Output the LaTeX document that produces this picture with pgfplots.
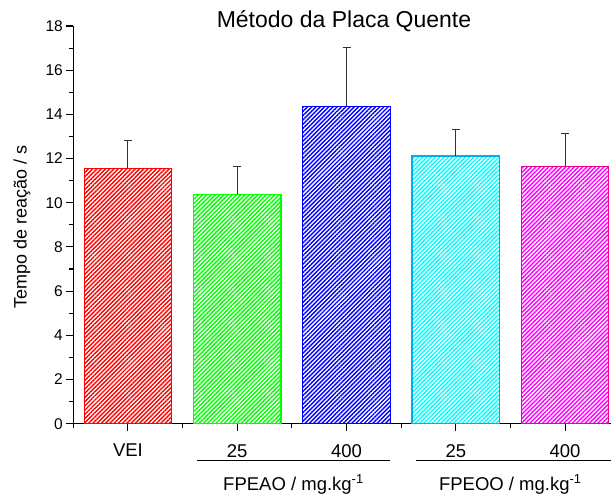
\documentclass[border=0pt]{standalone}
\usepackage{fontspec}
\setmainfont{Liberation Sans}
\usepackage{pgfplots}
\pgfplotsset{compat=1.18}
\usetikzlibrary{patterns.meta}

\pgfplotsset{
  hatchbar/.style={
    draw=#1, line width=1.2bp,
    pattern={Lines[angle=45,distance=3bp,line width=1.4bp]},
    pattern color=#1,
    error bars/.cd,
      y dir=plus, y explicit,
      error bar style={line width=1bp, black!80},
      error mark options={rotate=90, mark size=4bp, line width=1bp, black!80},
  },
}

\begin{document}
\begin{tikzpicture}
\path[use as bounding box] (-73.3bp,-71.3bp) rectangle (537.7bp,423.7bp);
\begin{axis}[
  at={(0,0)}, anchor=south west,
  scale only axis,
  width=537.7bp, height=397.7bp,
  xmin=0.5, xmax=5.42,
  ymin=0, ymax=18,
  axis lines*=left,
  axis line style={line width=1.4bp, black},
  ybar, bar width=0.8, bar shift=0pt,
  xtick={1,...,5},
  xticklabels={VEI,25,400,25,400},
  minor xtick={0.5,1.5,2.5,3.5,4.5},
  ytick={0,2,...,18},
  minor ytick={1,3,...,17},
  tick align=outside,
  major tick length=7bp,
  minor tick length=4.5bp,
  tick style={line width=1.1bp, black},
  /pgf/number format/assume math mode=true,
  yticklabel style={font=\fontsize{15.5bp}{18bp}\selectfont},
  xticklabel style={font=\fontsize{18.5bp}{22bp}\selectfont, yshift=-10bp},
  clip=false,
]
\addplot[hatchbar=red] coordinates {(1,11.54) +- (0,1.29)};
\addplot[hatchbar=green] coordinates {(2,10.38) +- (0,1.25)};
\addplot[hatchbar=blue] coordinates {(3,14.37) +- (0,2.67)};
\addplot[hatchbar=cyan] coordinates {(4,12.12) +- (0,1.19)};
\addplot[hatchbar=magenta] coordinates {(5,11.65) +- (0,1.48)};
\end{axis}

% titulo e rotulos
\node[anchor=base, font=\fontsize{23bp}{27bp}\selectfont] at (270.7bp,395.7bp) {Método da Placa Quente};
\node[rotate=90, font=\fontsize{18bp}{22bp}\selectfont] at (-51.3bp,196.7bp) {Tempo de reação / s};

% grupos de doses
\draw[line width=1bp] (123.7bp,-36.6bp) -- (316.7bp,-36.6bp);
\draw[line width=1bp] (342.7bp,-36.6bp) -- (537.7bp,-36.6bp);
\node[anchor=base, font=\fontsize{18.5bp}{22bp}\selectfont] at (220.2bp,-66.3bp) {FPEAO / mg.kg\textsuperscript{-1}};
\node[anchor=base, font=\fontsize{18.5bp}{22bp}\selectfont] at (437bp,-66.3bp) {FPEOO / mg.kg\textsuperscript{-1}};
\end{tikzpicture}
\end{document}
